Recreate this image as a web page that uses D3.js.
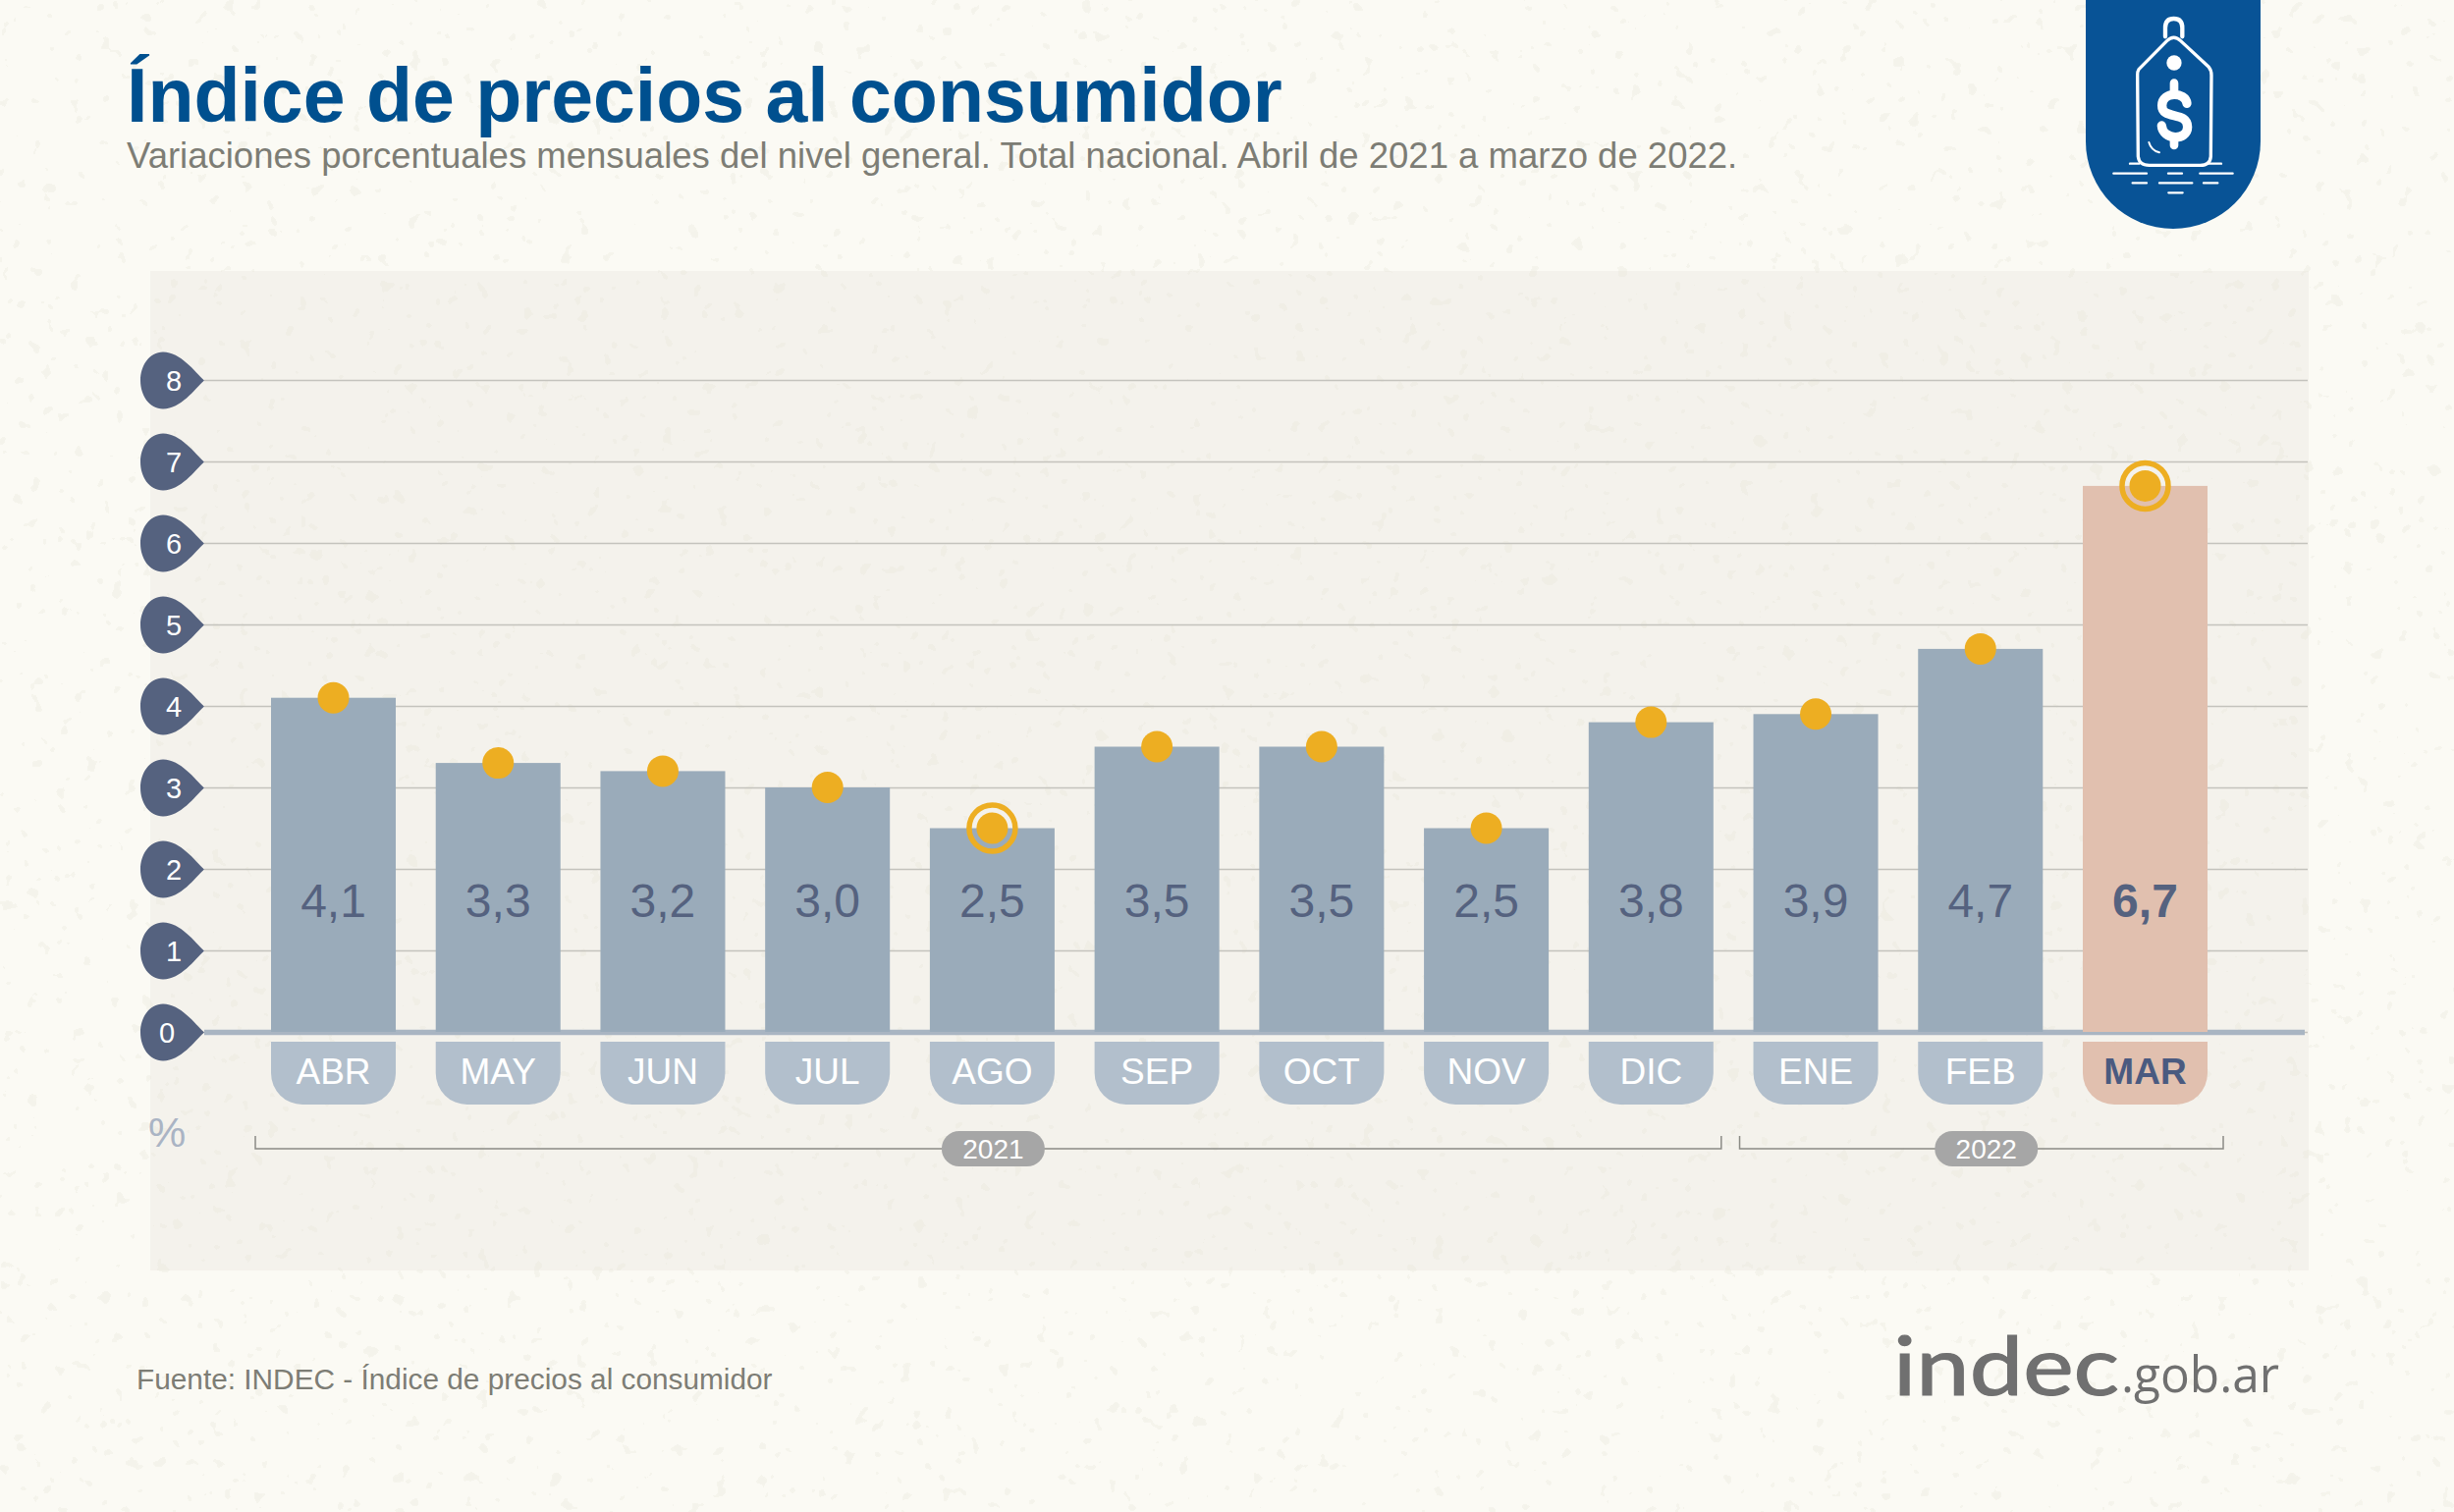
<!DOCTYPE html>
<html lang="es">
<head>
<meta charset="utf-8">
<title>Índice de precios al consumidor</title>
<script src="https://cdn.jsdelivr.net/npm/d3@7"></script>
<style>
  body { margin: 0; background: #fbfaf4; }
  text { font-family: "Liberation Sans", Arial, sans-serif; }
</style>
</head>
<body>
<script>
// datos
const meses = ['ABR', 'MAY', 'JUN', 'JUL', 'AGO', 'SEP', 'OCT', 'NOV', 'DIC', 'ENE', 'FEB', 'MAR'];
const variacion = [4.1, 3.3, 3.2, 3.0, 2.5, 3.5, 3.5, 2.5, 3.8, 3.9, 4.7, 6.7];
const ticksY = [0, 1, 2, 3, 4, 5, 6, 7, 8];
const anios = ['2021', '2022'];
const mesesPorAnio = [['ABR', 'DIC'], ['ENE', 'MAR']];

const WIDTH = 2499;
const HEIGHT = 1540;

const AZUL = '#00508f';
const PIZARRA = '#55627f';
const NARANJA = '#edae22';
const GRIS = '#7d7d75';

const svg = d3.select('body')
  .append('svg')
  .attr('width', WIDTH)
  .attr('height', HEIGHT)
  .style('display', 'block');

// textura de papel del fondo, con ruido del propio svg
const filtro = svg.append('defs').append('filter')
  .attr('id', 'papel')
  .attr('color-interpolation-filters', 'sRGB')
  .attr('x', 0).attr('y', 0).attr('width', '100%').attr('height', '100%');
filtro.append('feTurbulence')
  .attr('type', 'fractalNoise')
  .attr('baseFrequency', 0.07)
  .attr('numOctaves', 2)
  .attr('seed', 7);
filtro.append('feColorMatrix')
  .attr('values', '0 0 0 0 0.91  0 0 0 0 0.90  0 0 0 0 0.85  1 0 0 0 0');
filtro.append('feComponentTransfer').append('feFuncA')
  .attr('type', 'discrete')
  .attr('tableValues', '0 0 0 0 0 0 0 0 0 0 0 0 0 0 0.3 0.35 0.35 0.35 0.35 0.35');

svg.append('rect').attr('width', WIDTH).attr('height', HEIGHT).attr('fill', '#fbfaf4');
svg.append('rect').attr('x', 153).attr('y', 276).attr('width', 2198).attr('height', 1018).attr('fill', '#f4f2ec');
svg.append('rect').attr('width', WIDTH).attr('height', HEIGHT).attr('filter', 'url(#papel)');

// titulos
svg.append('text')
  .attr('x', 129).attr('y', 124)
  .attr('font-size', 77)
  .attr('font-weight', 700)
  .attr('fill', AZUL)
  .text('Índice de precios al consumidor');

svg.append('text')
  .attr('x', 129).attr('y', 171)
  .attr('font-size', 36.5)
  .attr('fill', GRIS)
  .text('Variaciones porcentuales mensuales del nivel general. Total nacional. Abril de 2021 a marzo de 2022.');

// escalas
const escalaX = d3.scaleBand()
  .domain(meses)
  .range([276, 2248])
  .paddingInner(0.2427)
  .paddingOuter(0);

const escalaY = d3.scaleLinear()
  .domain([0, 8])
  .range([1051, 387]);

// eje Y con gotas
const ejeY = d3.axisLeft(escalaY)
  .tickValues(ticksY)
  .tickSize(-(2350 - 208))
  .tickPadding(0)
  .tickFormat(d3.format('d'));

const grupoEje = svg.append('g')
  .attr('transform', 'translate(208 0)')
  .call(ejeY);

grupoEje.select('.domain').remove();
grupoEje.selectAll('.tick line')
  .attr('stroke', '#c4c3bd')
  .attr('stroke-width', 1.5);
grupoEje.selectAll('.tick')
  .insert('path', 'text')
  .attr('d', 'M0,0 C-10,-9 -24,-29 -42,-29 C-56,-29 -65,-15 -65,0 C-65,15 -56,29 -42,29 C-24,29 -10,9 0,0Z')
  .attr('fill', PIZARRA);
grupoEje.selectAll('.tick text')
  .attr('x', (d) => d === 0 ? -38 : -31)
  .attr('dy', '0.35em')
  .attr('text-anchor', 'middle')
  .attr('font-size', 29)
  .attr('fill', '#ffffff');

// linea base
svg.append('line')
  .attr('x1', 208).attr('x2', 2347)
  .attr('y1', escalaY(0) + 0.5).attr('y2', escalaY(0) + 0.5)
  .attr('stroke', '#a9b5c2')
  .attr('stroke-width', 5.5);

// barras
const esUltimo = (i) => i === meses.length - 1;

svg.append('g')
  .selectAll('rect')
  .data(variacion)
  .enter()
  .append('rect')
  .attr('x', (d, i) => escalaX(meses[i]))
  .attr('y', (d) => escalaY(d))
  .attr('width', escalaX.bandwidth())
  .attr('height', (d) => escalaY(0) - escalaY(d))
  .attr('fill', (d, i) => esUltimo(i) ? '#e1c0af' : '#9aabba');

// valores
svg.append('g')
  .selectAll('text')
  .data(variacion)
  .enter()
  .append('text')
  .attr('x', (d, i) => escalaX(meses[i]) + escalaX.bandwidth() / 2)
  .attr('y', 934)
  .attr('text-anchor', 'middle')
  .attr('font-size', 48)
  .attr('font-weight', (d, i) => esUltimo(i) ? 700 : 400)
  .attr('fill', PIZARRA)
  .text((d) => d3.format('.1f')(d).replace('.', ','));

// puntos
const centro = (i) => escalaX(meses[i]) + escalaX.bandwidth() / 2;

svg.append('g')
  .selectAll('circle')
  .data(variacion)
  .enter()
  .append('circle')
  .attr('cx', (d, i) => centro(i))
  .attr('cy', (d) => escalaY(d))
  .attr('r', 16)
  .attr('fill', NARANJA);

// anillos en el minimo y el maximo
const extremos = [4, 11];
svg.append('g')
  .selectAll('circle')
  .data(extremos)
  .enter()
  .append('circle')
  .attr('cx', (i) => centro(i))
  .attr('cy', (i) => escalaY(variacion[i]))
  .attr('r', 23.5)
  .attr('fill', 'none')
  .attr('stroke', NARANJA)
  .attr('stroke-width', 5.5);

// pestañas de los meses
function pestania(x, ancho) {
  const y0 = 1061;
  const y1 = 1125;
  const r = 32;
  const p = d3.path();
  p.moveTo(x, y0);
  p.lineTo(x + ancho, y0);
  p.lineTo(x + ancho, y1 - r);
  p.arcTo(x + ancho, y1, x + ancho - r, y1, r);
  p.lineTo(x + r, y1);
  p.arcTo(x, y1, x, y1 - r, r);
  p.closePath();
  return p.toString();
}

const tabs = svg.append('g')
  .selectAll('g')
  .data(meses)
  .enter()
  .append('g');

tabs.append('path')
  .attr('d', (d) => pestania(escalaX(d), escalaX.bandwidth()))
  .attr('fill', (d, i) => esUltimo(i) ? '#e1c0af' : '#b2bfcc');

tabs.append('text')
  .attr('x', (d) => escalaX(d) + escalaX.bandwidth() / 2)
  .attr('y', 1104)
  .attr('text-anchor', 'middle')
  .attr('font-size', 37)
  .attr('font-weight', (d, i) => esUltimo(i) ? 700 : 400)
  .attr('fill', (d, i) => esUltimo(i) ? '#4a5a80' : '#ffffff')
  .text((d) => d);

svg.append('text')
  .attr('x', 151).attr('y', 1168)
  .attr('font-size', 43)
  .attr('fill', '#aab4c4')
  .text('%');

// llaves de los años
const llaves = svg.append('g')
  .selectAll('g')
  .data(anios)
  .enter()
  .append('g');

const llaveX0 = (i) => escalaX(mesesPorAnio[i][0]) - (i === 0 ? 16 : 14);
const llaveX1 = (i) => escalaX(mesesPorAnio[i][1]) + escalaX.bandwidth() + (i === 0 ? 8 : 16);
const llaveMedio = (i) => i === 0 ? centro(4) + 1 : centro(10) + 6;

llaves.append('path')
  .attr('d', (d, i) => `M${llaveX0(i)},1157V1170H${llaveX1(i)}V1157`)
  .attr('fill', 'none')
  .attr('stroke', '#8b8b85')
  .attr('stroke-width', 1.5);

llaves.append('rect')
  .attr('x', (d, i) => llaveMedio(i) - 52.5)
  .attr('y', 1152)
  .attr('width', 105)
  .attr('height', 36)
  .attr('rx', 18)
  .attr('fill', '#a6a6a6');

llaves.append('text')
  .attr('x', (d, i) => llaveMedio(i))
  .attr('y', 1180)
  .attr('text-anchor', 'middle')
  .attr('font-size', 28)
  .attr('fill', '#ffffff')
  .text((d) => d);

// fuente
svg.append('text')
  .attr('x', 139).attr('y', 1415)
  .attr('font-size', 29.8)
  .attr('fill', GRIS)
  .text('Fuente: INDEC - Índice de precios al consumidor');

// logo indec.gob.ar
svg.append('text')
  .attr('x', 1928).attr('y', 1421)
  .attr('font-size', 84)
  .attr('textLength', 230)
  .attr('lengthAdjust', 'spacingAndGlyphs')
  .attr('fill', '#707070')
  .attr('stroke', '#707070')
  .attr('stroke-width', 1.2)
  .style('font-family', 'Lato, sans-serif')
  .text('indec');

svg.append('text')
  .attr('x', 2160).attr('y', 1418)
  .attr('font-size', 52)
  .attr('textLength', 161)
  .attr('lengthAdjust', 'spacingAndGlyphs')
  .attr('fill', '#707070')
  .style('font-family', '"Open Sans", sans-serif')
  .text('.gob.ar');

// solapa azul con etiqueta de precio
svg.append('path')
  .attr('d', 'M2124,0H2302V144A89,89 0 0 1 2124,144Z')
  .attr('fill', '#085396');

const icono = svg.append('g')
  .attr('transform', 'translate(2050 0) scale(0.3333)')
  .attr('fill', 'none')
  .attr('stroke', '#ffffff')
  .attr('stroke-width', 10)
  .attr('stroke-linecap', 'round')
  .attr('stroke-linejoin', 'round');

icono.append('path').attr('d', 'M384,212 L470,125 Q491,105 512,125 L598,205 Q606,214 606,230 L604,478 Q602,505 572,505 L416,505 Q385,505 382,478 L380,230 Q380,218 384,212Z');
icono.append('path').attr('stroke-width', 13).attr('d', 'M465,112 L465,85 Q465,57 491,57 Q517,57 517,85 L517,112');
icono.append('circle').attr('cx', 492).attr('cy', 192).attr('r', 23).attr('fill', '#ffffff').attr('stroke', 'none');
icono.append('path')
  .attr('stroke-width', 28)
  .attr('d', 'M531,316 C527,280 456,278 455,322 C454,368 533,338 533,388 C533,432 457,428 454,384');
icono.append('path').attr('stroke-width', 26).attr('d', 'M492,254 V276 M492,424 V444');
icono.append('path').attr('stroke-width', 6).attr('d', 'M415,435 Q422,460 447,466');
icono.append('path')
  .attr('stroke-width', 7)
  .attr('d', 'M357,500H385 M600,500H636 M307,530H408 M474,530H516 M571,530H671 M365,559H408 M447,559H547 M582,559H625 M475,589H518');
</script>
</body>
</html>
